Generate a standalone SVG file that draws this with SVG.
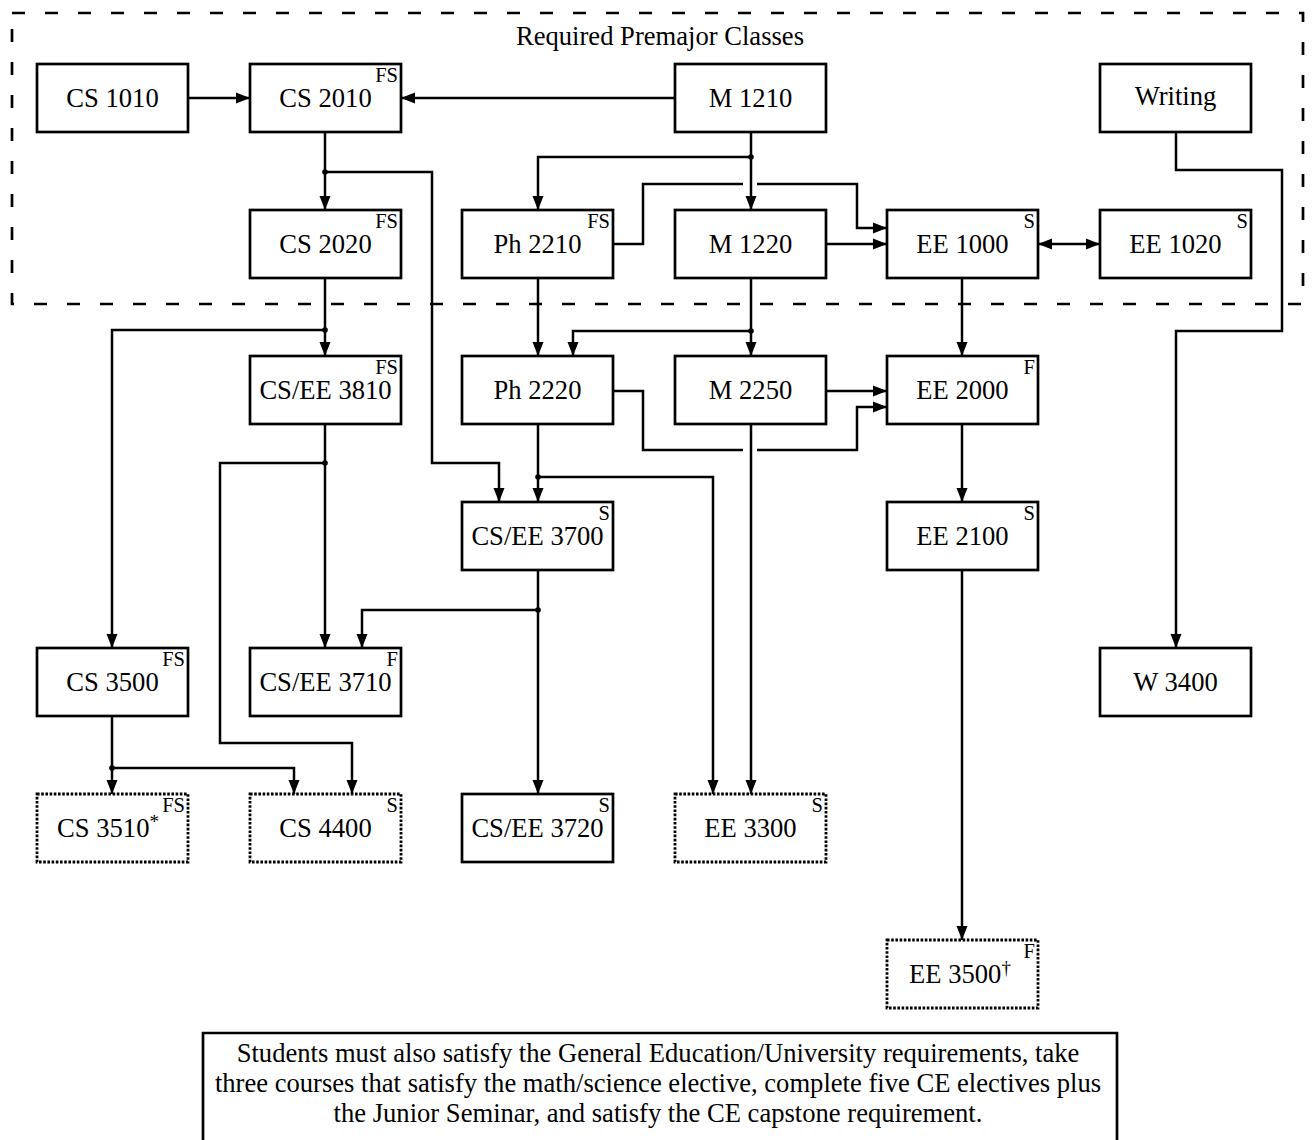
<svg xmlns="http://www.w3.org/2000/svg" width="1312" height="1140" viewBox="0 0 1312 1140">
<style>
text{font-family:"Liberation Serif","Times New Roman",serif;fill:#000}
.lbl{font-size:26.6px;text-anchor:middle}
.sem{font-size:20.5px;text-anchor:end}
.box{fill:#fff;stroke:#000;stroke-width:2.7}
.dot{fill:#fff;stroke:#000;stroke-width:2.8;stroke-dasharray:2.6 1.6}
.c{fill:none;stroke:#000;stroke-width:2.5}
.a{marker-end:url(#ah)}
.j{fill:#000}
.note{font-size:26.6px;text-anchor:middle}
</style>
<defs>
<marker id="ah" markerUnits="userSpaceOnUse" markerWidth="14" markerHeight="11" refX="14" refY="5.5" orient="auto-start-reverse" overflow="visible">
<path d="M0,0 L14,5.5 L0,11 Z" fill="#000"/>
</marker>
</defs>
<rect x="0" y="0" width="1312" height="1140" fill="#fff"/>
<g id="premajor">
<rect x="12" y="13" width="1291" height="291" fill="none" stroke="#000" stroke-width="2.7" stroke-dasharray="13 20"/>
<text x="660" y="45" class="lbl">Required Premajor Classes</text>
</g>
<g id="connectors">
<path class="c a" d="M188,98 H250"/>
<path class="c a" d="M675,98 H401"/>
<path class="c a" d="M325,132 V210"/>
<path class="c a" d="M325,172 H432 V463 H499 V502"/>
<path class="c a" d="M751,132 V210"/>
<path class="c a" d="M751,157 H538 V210"/>
<path class="c" d="M614,244 H643 V184 H743"/>
<path class="c a" d="M757,184 H857 V228 H887"/>
<path class="c a" d="M827,244 H887"/>
<path class="c a" d="M1038,244 H1100" marker-start="url(#ah)"/>
<path class="c a" d="M1176,132 V170 H1282 V331 H1176 V648"/>
<path class="c a" d="M325,278 V356"/>
<path class="c a" d="M325,330 H112 V648"/>
<path class="c a" d="M538,278 V356"/>
<path class="c a" d="M751,278 V356"/>
<path class="c a" d="M751,331 H573 V356"/>
<path class="c a" d="M962,278 V356"/>
<path class="c a" d="M827,391 H887"/>
<path class="c" d="M614,391 H643 V450 H743"/>
<path class="c a" d="M757,450 H857 V407 H887"/>
<path class="c a" d="M751,424 V794"/>
<path class="c a" d="M538,424 V502"/>
<path class="c a" d="M538,477 H713 V794"/>
<path class="c a" d="M962,424 V502"/>
<path class="c a" d="M325,424 V648"/>
<path class="c a" d="M325,463 H220 V743 H352 V794"/>
<path class="c a" d="M538,570 V794"/>
<path class="c a" d="M538,610 H362 V648"/>
<path class="c a" d="M112,716 V794"/>
<path class="c a" d="M112,768 H294 V794"/>
<path class="c a" d="M962,570 V940"/>
<circle class="j" cx="325" cy="172" r="2.8"/>
<circle class="j" cx="751" cy="157" r="2.8"/>
<circle class="j" cx="325" cy="330" r="2.8"/>
<circle class="j" cx="751" cy="331" r="2.8"/>
<circle class="j" cx="538" cy="477" r="2.8"/>
<circle class="j" cx="325" cy="463" r="2.8"/>
<circle class="j" cx="538" cy="610" r="2.8"/>
<circle class="j" cx="112" cy="768" r="2.8"/>
</g>
<g id="cs1010"><rect class="box" x="37" y="64" width="151" height="68"/><text class="lbl" x="112.5" y="107">CS 1010</text></g>
<g id="cs2010"><rect class="box" x="250" y="64" width="151" height="68"/><text class="lbl" x="325.5" y="107">CS 2010</text><text class="sem" x="398" y="82">FS</text></g>
<g id="m1210"><rect class="box" x="675" y="64" width="151" height="68"/><text class="lbl" x="750.5" y="107">M 1210</text></g>
<g id="writing"><rect class="box" x="1100" y="64" width="151" height="68"/><text class="lbl" x="1175.5" y="105">Writing</text></g>
<g id="cs2020"><rect class="box" x="250" y="210" width="151" height="68"/><text class="lbl" x="325.5" y="253">CS 2020</text><text class="sem" x="398" y="228">FS</text></g>
<g id="ph2210"><rect class="box" x="462" y="210" width="151" height="68"/><text class="lbl" x="537.5" y="253">Ph 2210</text><text class="sem" x="610" y="228">FS</text></g>
<g id="m1220"><rect class="box" x="675" y="210" width="151" height="68"/><text class="lbl" x="750.5" y="253">M 1220</text></g>
<g id="ee1000"><rect class="box" x="887" y="210" width="151" height="68"/><text class="lbl" x="962.5" y="253">EE 1000</text><text class="sem" x="1035" y="228">S</text></g>
<g id="ee1020"><rect class="box" x="1100" y="210" width="151" height="68"/><text class="lbl" x="1175.5" y="253">EE 1020</text><text class="sem" x="1248" y="228">S</text></g>
<g id="cs3810"><rect class="box" x="250" y="356" width="151" height="68"/><text class="lbl" x="325.5" y="399">CS/EE 3810</text><text class="sem" x="398" y="374">FS</text></g>
<g id="ph2220"><rect class="box" x="462" y="356" width="151" height="68"/><text class="lbl" x="537.5" y="399">Ph 2220</text></g>
<g id="m2250"><rect class="box" x="675" y="356" width="151" height="68"/><text class="lbl" x="750.5" y="399">M 2250</text></g>
<g id="ee2000"><rect class="box" x="887" y="356" width="151" height="68"/><text class="lbl" x="962.5" y="399">EE 2000</text><text class="sem" x="1035" y="374">F</text></g>
<g id="cs3700"><rect class="box" x="462" y="502" width="151" height="68"/><text class="lbl" x="537.5" y="545">CS/EE 3700</text><text class="sem" x="610" y="520">S</text></g>
<g id="ee2100"><rect class="box" x="887" y="502" width="151" height="68"/><text class="lbl" x="962.5" y="545">EE 2100</text><text class="sem" x="1035" y="520">S</text></g>
<g id="cs3500"><rect class="box" x="37" y="648" width="151" height="68"/><text class="lbl" x="112.5" y="691">CS 3500</text><text class="sem" x="185" y="666">FS</text></g>
<g id="cs3710"><rect class="box" x="250" y="648" width="151" height="68"/><text class="lbl" x="325.5" y="691">CS/EE 3710</text><text class="sem" x="398" y="666">F</text></g>
<g id="w3400"><rect class="box" x="1100" y="648" width="151" height="68"/><text class="lbl" x="1175.5" y="691">W 3400</text></g>
<g id="cs3510"><rect class="dot" x="37" y="794" width="151" height="68"/><text class="lbl" x="108" y="837">CS 3510<tspan font-size="19" dy="-9">*</tspan></text><text class="sem" x="185" y="812">FS</text></g>
<g id="cs4400"><rect class="dot" x="250" y="794" width="151" height="68"/><text class="lbl" x="325.5" y="837">CS 4400</text><text class="sem" x="398" y="812">S</text></g>
<g id="cs3720"><rect class="box" x="462" y="794" width="151" height="68"/><text class="lbl" x="537.5" y="837">CS/EE 3720</text><text class="sem" x="610" y="812">S</text></g>
<g id="ee3300"><rect class="dot" x="675" y="794" width="151" height="68"/><text class="lbl" x="750.5" y="837">EE 3300</text><text class="sem" x="823" y="812">S</text></g>
<g id="ee3500"><rect class="dot" x="887" y="940" width="151" height="68"/><text class="lbl" x="960" y="983">EE 3500<tspan font-size="19" dy="-9">†</tspan></text><text class="sem" x="1035" y="958">F</text></g>
<g id="note">
<path d="M203,1140 V1033 H1117 V1140" fill="none" stroke="#000" stroke-width="2.7"/>
<text class="note" x="658" y="1062">Students must also satisfy the General Education/University requirements, take</text>
<text class="note" x="658" y="1092">three courses that satisfy the math/science elective, complete five CE electives plus</text>
<text class="note" x="658" y="1122">the Junior Seminar, and satisfy the CE capstone requirement.</text>
</g>
</svg>
